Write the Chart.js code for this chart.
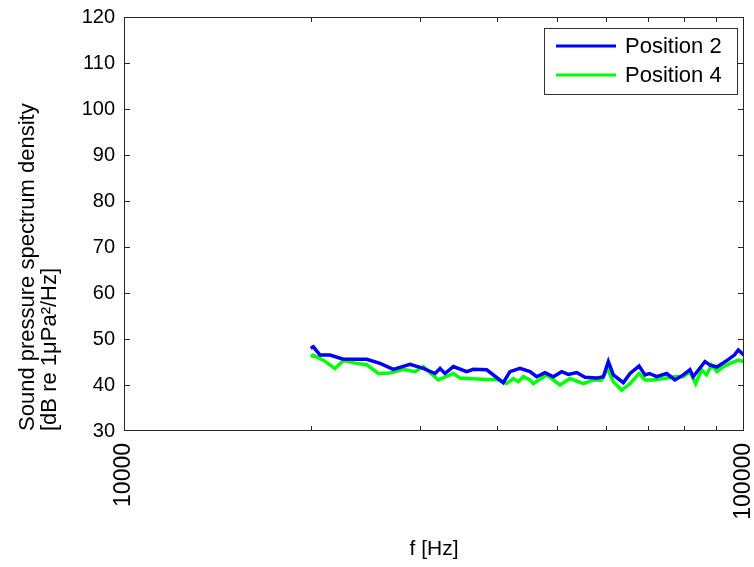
<!DOCTYPE html>
<html>
<head>
<meta charset="utf-8">
<script src="https://cdn.jsdelivr.net/npm/chart.js@4"></script>
<style>
  body { margin: 0; background: #fff; }
  #wrap { width: 754px; height: 567px; }
</style>
</head>
<body>
<div id="wrap"><canvas id="psd"></canvas></div>
<script>
// sound pressure spectrum density, two hydrophone positions
const pos2Freq = [20000, 20200, 20710, 21490, 22580, 24630, 25880, 27190, 28930, 30390,
  31740, 32340, 32940, 33980, 35700, 36590, 38460, 40900, 41930, 43520,
  45160, 46300, 47750, 49260, 50810, 52080, 53720, 55400, 57860, 59310,
  60420, 61550, 63880, 65490, 67720, 69230, 70360, 72300, 75030, 77380,
  79820, 81810, 82800, 86510, 88180, 90450, 94040, 96500, 97920, 100000];
const pos2Level = [48.0, 48.3, 46.5, 46.5, 45.6, 45.6, 44.7, 43.4, 44.5, 43.6,
  42.5, 43.6, 42.5, 44.0, 42.9, 43.4, 43.3, 40.5, 42.9, 43.6,
  42.9, 41.8, 42.7, 41.8, 42.9, 42.3, 42.7, 41.7, 41.5, 41.8,
  45.1, 42.2, 40.5, 42.5, 44.1, 42.2, 42.5, 41.8, 42.5, 41.1,
  42.2, 43.3, 41.8, 45.1, 44.3, 43.9, 45.4, 46.5, 47.6, 46.5];

const pos4Freq = [20000, 20200, 20970, 21890, 22580, 23730, 24630, 25720, 26850, 28210,
  29470, 30390, 32140, 33980, 34830, 38460, 39920, 41420, 42460, 43250,
  44060, 45160, 45730, 48050, 50500, 52400, 55060, 57150, 58940, 60200,
  61550, 63480, 65490, 67720, 69230, 71410, 74100, 77380, 79820, 81810,
  83570, 85450, 87000, 88670, 90450, 92500, 94930, 97920, 100000];
const pos4Level = [46.2, 46.5, 45.4, 43.6, 45.3, 44.7, 44.4, 42.5, 42.6, 43.4,
  42.9, 44.0, 41.1, 42.5, 41.5, 41.2, 41.2, 40.3, 41.4, 40.7,
  41.8, 41.1, 40.3, 42.2, 40.0, 41.4, 40.3, 41.1, 41.1, 43.6,
  40.7, 38.9, 40.3, 42.5, 41.1, 41.1, 41.4, 41.8, 41.8, 42.9,
  40.3, 43.3, 42.2, 44.3, 42.9, 43.9, 44.7, 45.4, 45.1];

const xTicks = [10000, 20000, 30000, 40000, 50000, 60000, 70000, 80000, 90000, 100000];
const xLabels = [10000, 100000];
const yMin = 30, yMax = 120, yStep = 10;

const pts = (xs, ys) => xs.map((x, i) => ({x: x, y: ys[i]}));

Chart.defaults.font.family = '"Liberation Sans", Arial, sans-serif';
Chart.defaults.color = '#000';

const axisColor = '#262626';

// matlab style box with inward ticks + legend inside the axes
const matlabBox = {
  id: 'matlabBox',
  afterDraw(chart) {
    const {ctx, chartArea: a} = chart;
    const xs = chart.scales.x, ys = chart.scales.y;
    ctx.save();
    ctx.strokeStyle = axisColor;
    ctx.lineWidth = 1;
    ctx.strokeRect(a.left + 0.5, a.top + 0.5, a.right - a.left - 1, a.bottom - a.top - 1);
    ctx.beginPath();
    xs.ticks.forEach(t => {
      const px = Math.round(xs.getPixelForValue(t.value)) + 0.5;
      if (px <= a.left + 1 || px >= a.right - 1) return;
      ctx.moveTo(px, a.bottom); ctx.lineTo(px, a.bottom - 5);
      ctx.moveTo(px, a.top); ctx.lineTo(px, a.top + 5);
    });
    ys.ticks.forEach(t => {
      const py = Math.round(ys.getPixelForValue(t.value)) + 0.5;
      if (py <= a.top + 1 || py >= a.bottom - 1) return;
      ctx.moveTo(a.left, py); ctx.lineTo(a.left + 6, py);
      ctx.moveTo(a.right, py); ctx.lineTo(a.right - 6, py);
    });
    ctx.stroke();

    // legend
    const bx = a.right - 200, by = a.top + 11, bw = 193, bh = 66;
    ctx.fillStyle = '#fff';
    ctx.fillRect(bx, by, bw, bh);
    ctx.strokeStyle = '#333';
    ctx.strokeRect(bx + 0.5, by + 0.5, bw, bh);
    ctx.font = '22px "Liberation Sans", Arial, sans-serif';
    ctx.textBaseline = 'middle';
    chart.data.datasets.forEach((ds, i) => {
      const ly = by + 18 + i * 29;
      ctx.strokeStyle = ds.borderColor;
      ctx.lineWidth = 3;
      ctx.beginPath();
      ctx.moveTo(bx + 12, ly); ctx.lineTo(bx + 72, ly);
      ctx.stroke();
      ctx.fillStyle = '#000';
      ctx.fillText(ds.label, bx + 81, ly + 1);
    });
    ctx.restore();
  }
};

new Chart(document.getElementById('psd'), {
  type: 'line',
  data: {
    datasets: [
      {label: 'Position 2', data: pts(pos2Freq, pos2Level), borderColor: '#0000ff', borderWidth: 3.5},
      {label: 'Position 4', data: pts(pos4Freq, pos4Level), borderColor: '#00ff00', borderWidth: 3.5}
    ]
  },
  options: {
    responsive: true,
    maintainAspectRatio: false,
    animation: false,
    layout: {padding: {top: 17, right: 10, bottom: 0, left: 0}},
    elements: {point: {radius: 0}, line: {tension: 0}},
    plugins: {legend: {display: false}, tooltip: {enabled: false}},
    scales: {
      x: {
        type: 'logarithmic',
        min: 10000,
        max: 100000,
        grid: {display: false, drawTicks: false},
        border: {display: false},
        afterBuildTicks: s => { s.ticks = xTicks.map(v => ({value: v})); },
        ticks: {
          autoSkip: false,
          minRotation: 90,
          maxRotation: 90,
          padding: 12,
          font: {size: 23},
          callback: v => xLabels.includes(v) ? String(v) : ''
        },
        title: {display: true, text: 'f [Hz]', font: {size: 21}, padding: {top: 0, bottom: 5}},
        afterFit: s => { s.height = 136; s.paddingLeft = 0; s.paddingRight = 0; }
      },
      y: {
        min: yMin,
        max: yMax,
        grid: {display: false, drawTicks: false},
        border: {display: false},
        ticks: {stepSize: yStep, padding: 9, font: {size: 20}},
        title: {
          display: true,
          align: 'start',
          text: ['Sound pressure spectrum density', '[dB re 1\u03bcPa\u00b2/Hz]'],
          font: {size: 22, lineHeight: 1.0},
          padding: {top: 17, bottom: 0}
        },
        afterFit: s => { s.width = 124; s.paddingTop = 0; s.paddingBottom = 0; }
      }
    }
  },
  plugins: [matlabBox]
});
</script>
</body>
</html>
